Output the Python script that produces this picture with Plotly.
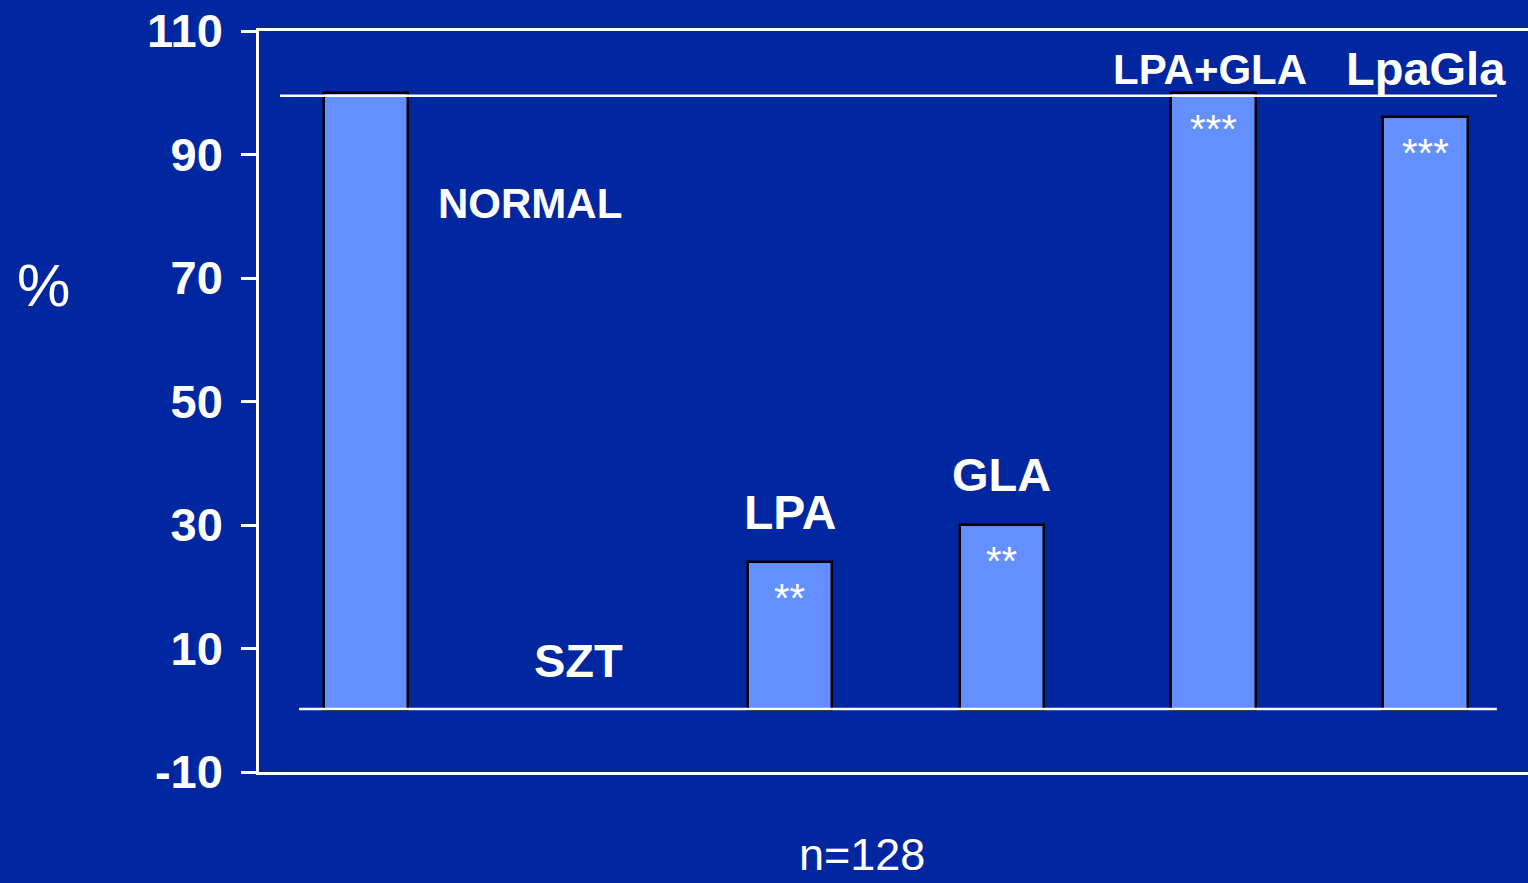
import plotly.graph_objects as go

# Data
categories = ["NORMAL", "SZT", "LPA", "GLA", "LPA+GLA", "LpaGla"]
values = [100, 0, 24, 30, 100, 96]
significance = ["", "", "**", "**", "***", "***"]
y_ticks = [-10, 10, 30, 50, 70, 90, 110]

# Label placement (category index offset, y value) and font size
label_pos = {
    "NORMAL": (0.774, 82, 42),
    "SZT": (1.0, 8.1, 47),
    "LPA": (2.0, 32.1, 48),
    "GLA": (3.0, 38.1, 47),
    "LPA+GLA": (3.98, 103.7, 42),
    "LpaGla": (5.0, 104, 47),
}

BG = "#0026A0"
BAR = "#648FFF"
FONT = "Liberation Sans, Arial, sans-serif"

x_idx = list(range(len(categories)))
# no outline on empty bars
outline_w = [2.5 if v > 0 else 0 for v in values]

fig = go.Figure()
fig.add_trace(go.Bar(
    x=x_idx, y=values, width=0.4,
    marker=dict(color=BAR, line=dict(color="black", width=outline_w)),
    hoverinfo="skip",
))

annotations = []
for i, cat in enumerate(categories):
    dx, dy, fs = label_pos[cat]
    annotations.append(dict(
        x=dx, y=dy, xref="x", yref="y", text=f"<b>{cat}</b>",
        showarrow=False, font=dict(family=FONT, size=fs, color="white"),
        xanchor="center", yanchor="middle",
    ))
    if significance[i]:
        annotations.append(dict(
            x=i, y=values[i], xref="x", yref="y", text=significance[i],
            showarrow=False, font=dict(family=FONT, size=40, color="white"),
            xanchor="center", yanchor="top", yshift=-12,
        ))

annotations.append(dict(
    x=0.4755, y=-0.111, xref="paper", yref="paper", text="n=128",
    showarrow=False, font=dict(family=FONT, size=45, color="white"),
    xanchor="center", yanchor="middle",
))
annotations.append(dict(
    x=-0.0, y=0.656, xref="paper", yref="paper", text="%",
    showarrow=False, font=dict(family=FONT, size=60, color="white"),
    xanchor="center", yanchor="middle", xshift=-216,
))

shapes = [
    # reference line at the normal level
    dict(type="line", xref="x", yref="y", x0=-0.406, x1=5.335, y0=99.5, y1=99.5,
         line=dict(color="white", width=2.5)),
    # zero baseline
    dict(type="line", xref="x", yref="y", x0=-0.316, x1=5.335, y0=0.2, y1=0.2,
         line=dict(color="white", width=2.5)),
]

fig.update_layout(
    width=1528, height=883,
    margin=dict(l=259, r=0, t=31, b=111),
    paper_bgcolor=BG, plot_bgcolor=BG,
    showlegend=False,
    annotations=annotations,
    shapes=shapes,
    bargap=0,
)
fig.update_xaxes(
    range=[-0.505, 5.482], showticklabels=False, ticks="",
    showgrid=False, zeroline=False,
    showline=True, linecolor="white", linewidth=2.5, mirror=True,
)
fig.update_yaxes(
    range=[-10, 110], tickvals=y_ticks, ticktext=[str(v) for v in y_ticks],
    ticks="outside", ticklen=15, tickwidth=2.5, tickcolor="white",
    tickfont=dict(family=FONT, size=47, color="white", weight="bold"),
    ticklabelstandoff=9,
    showgrid=False, zeroline=False,
    showline=True, linecolor="white", linewidth=2.5, mirror=False,
)

fig.write_html("out.html")
